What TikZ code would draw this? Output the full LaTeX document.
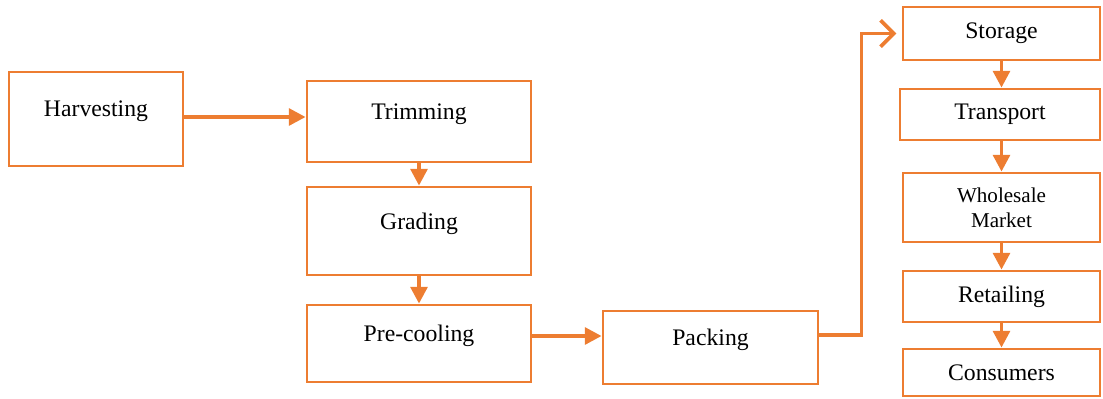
\documentclass[tikz,border=0pt]{standalone}
\usepackage{fontspec}
\setmainfont{Liberation Serif}
\usepackage{tikz}
\usetikzlibrary{arrows.meta}
\definecolor{orng}{RGB}{237,125,49}

\begin{document}
\begin{tikzpicture}[>={Triangle[length=9.5pt,width=9.5pt]},
    box/.style={draw=orng,line width=1.6pt,inner sep=0pt,align=center},
    lbox/.style={box,text depth=0.4cm},
    flow/.style={->,draw=orng,line width=2.1pt},
    font=\fontsize{13.5}{16}\selectfont]
    \useasboundingbox (0,0) rectangle (22.06,7.96);

    % left column
    \node[lbox,minimum width=3.48cm,minimum height=1.88cm] (harvest) at (1.92,5.58) {Harvesting};
    \node[lbox,minimum width=4.48cm,minimum height=1.62cm] (trim) at (8.38,5.53) {Trimming};
    \node[lbox,minimum width=4.48cm,minimum height=1.76cm] (grade) at (8.38,3.34) {Grading};
    \node[lbox,minimum width=4.48cm,minimum height=1.54cm] (precool) at (8.38,1.09) {Pre-cooling};
    \node[lbox,minimum width=4.30cm,minimum height=1.46cm] (pack) at (14.21,1.01) {Packing};

    % right column
    \node[box,minimum width=3.94cm,minimum height=1.06cm] (store) at (20.03,7.29) {Storage};
    \node[box,minimum width=4.00cm,minimum height=1.02cm] (transp) at (20.00,5.67) {Transport};
    \node[box,minimum width=3.94cm,minimum height=1.38cm,font=\fontsize{12}{14}\selectfont] (whole) at (20.03,3.81) {Wholesale\\Market};
    \node[box,minimum width=3.94cm,minimum height=1.02cm] (retail) at (20.03,2.03) {Retailing};
    \node[box,minimum width=3.94cm,minimum height=0.94cm] (consum) at (20.03,0.51) {Consumers};

    \draw[flow] ([yshift=0.04cm]harvest.east) -- ([yshift=0.04cm]harvest.east -| trim.west);
    \draw[flow] (trim) -- (grade);
    \draw[flow] (grade) -- (precool);
    \draw[flow] ([yshift=0.15cm]precool.east) -- ([yshift=0.15cm]precool.east -| pack.west);
    \draw[flow,-{Straight Barb[length=7.5pt,width=15pt]},shorten >=3pt]
      ([yshift=0.25cm]pack.east) -- ++(0.84,0) |- (store.west);
    \draw[flow] (store) -- (store |- transp.north);
    \draw[flow] (transp.south -| whole) -- (whole);
    \draw[flow] (whole) -- (retail);
    \draw[flow] (retail) -- (consum);
\end{tikzpicture}
\end{document}
